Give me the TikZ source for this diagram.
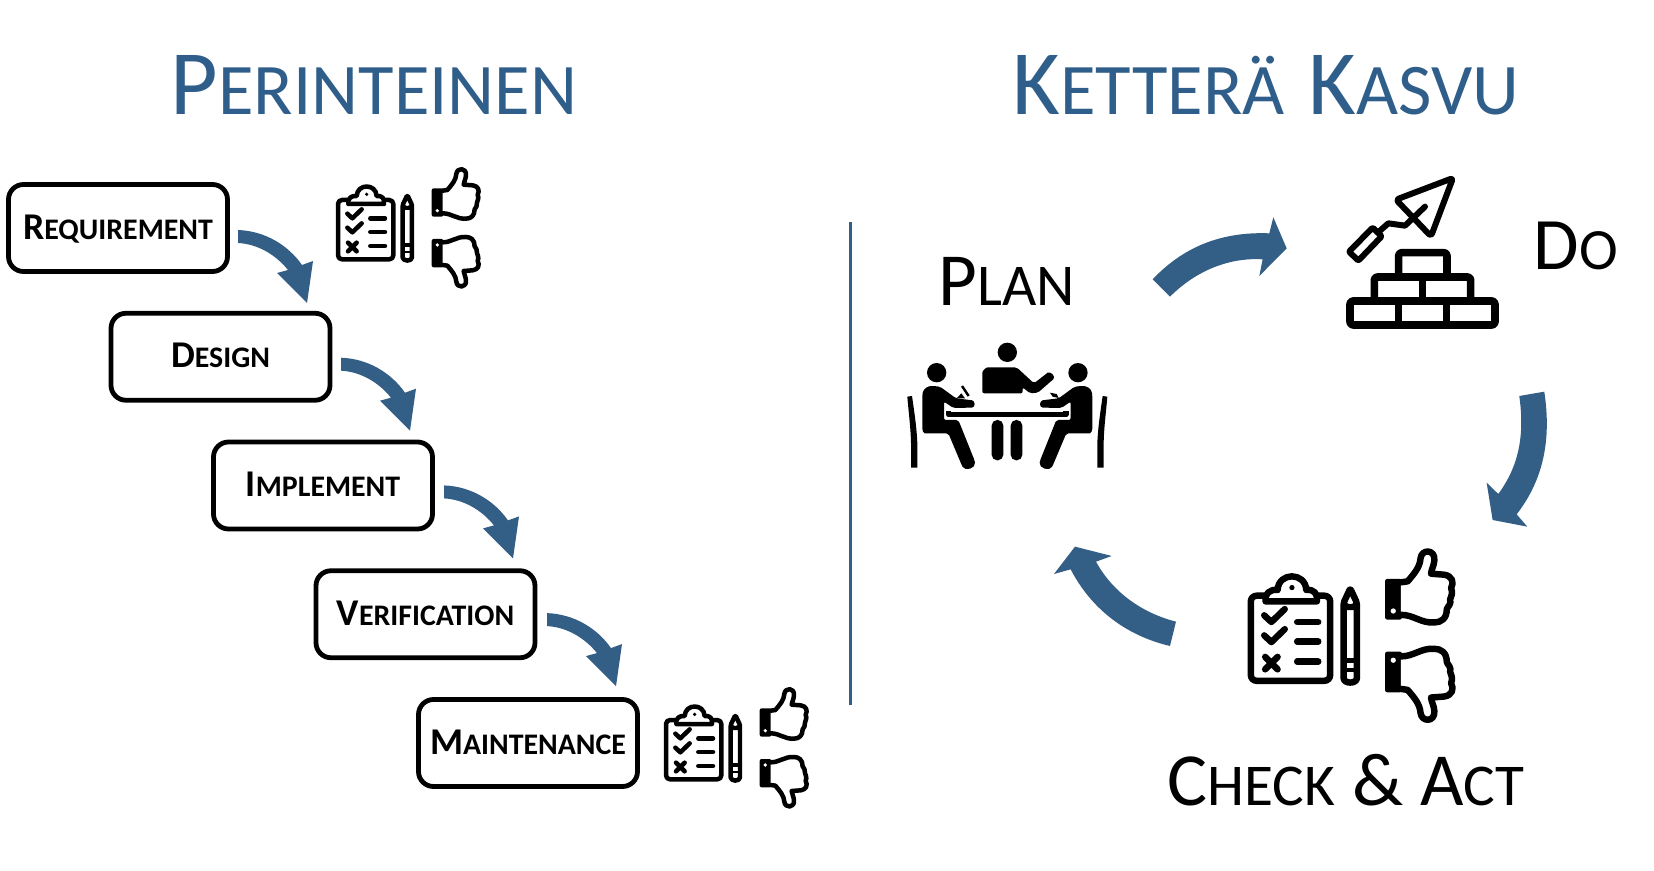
\documentclass[tikz,border=0pt]{standalone}
\usepackage{fontspec}
\setmainfont{Carlito}
\definecolor{blu}{HTML}{335E86}
\definecolor{tit}{HTML}{2F5E8B}
\newcommand{\capsm}[3]{\pgfmathsetmacro{\smallsz}{#1*0.79}{\fontsize{#1}{#1}\selectfont #2}{\fontsize{\smallsz}{#1}\selectfont #3}}
\newcommand{\thumbshape}{%
  \fill[black,rounded corners=2pt] (335,115) rectangle (370,200);
  \fill[white] (352,182) circle (5.5);
  \draw[fill=white,line join=round] (368,122) -- (382,120) .. controls (395,105) and (408,90) .. (409,72)
    .. controls (411,52) and (440,52) .. (438,76) .. controls (437,88) and (432,94) .. (431,104)
    -- (458,106) .. controls (475,108) and (480,122) .. (473,134) .. controls (478,145) and (472,152) .. (471,158)
    .. controls (474,168) and (466,172) .. (464,178) .. controls (464,198) and (452,206) .. (438,206)
    .. controls (410,208) and (395,190) .. (368,190);
}
\newcommand{\reviewicon}[3]{%
\begin{scope}[shift={(#1,#2)},scale=#3,line width=#3*13.5pt,line cap=round,line join=round]
  % clipboard
  \draw[rounded corners=#3*12pt] (88,150) -- (54,150) -- (54,328) -- (220,328) -- (220,150) -- (190,150);
  \draw[fill=white] (85,162) .. controls (82,145) and (95,136) .. (110,138) .. controls (112,100) and (168,100) .. (170,138)
     .. controls (185,136) and (195,145) .. (192,162) -- cycle;
  \fill (140,133) circle (5.5);
  \draw (82,191) -- (97,205) -- (125,178);
  \draw (82,233) -- (97,247) -- (125,220);
  \draw (84,278) -- (110,304) (110,278) -- (84,304);
  \draw (151,205) -- (195,205) (151,246) -- (195,246) (151,288) -- (195,288);
  % pencil
  \draw[rounded corners=#3*4pt] (248,165) -- (262,135) -- (276,165) -- (276,318) .. controls (276,335) and (248,335) .. (248,318) -- cycle;
  \fill (248,163) -- (262,168) -- (276,163) -- (276,180) -- (248,180) -- cycle;
  \fill (248,280) rectangle (276,290);
  \fill (248,302) rectangle (276,310);
  % thumbs
  \thumbshape
  \begin{scope}[yscale=-1,shift={(0,-467)}]
    \thumbshape
  \end{scope}
\end{scope}}
\newcommand{\stepper}[2]{%
\begin{scope}[shift={(#1,#2)}]
  \fill[blu] (238,230) .. controls (265,231) and (288,245) .. (302,265) -- (313,261) -- (307,303) -- (277,273) -- (288,270) .. controls (276,255) and (258,244) .. (238,243) -- cycle;
\end{scope}}
\tikzset{
  stagebox/.style={draw=black,line width=4.8pt,rounded corners=15pt,fill=white,minimum width=219pt,minimum height=87pt,inner sep=0pt},
  stagetext/.style={anchor=base,inner sep=0pt,font=\bfseries},
  headline/.style={anchor=base,inner sep=0pt,text=tit},
  phase/.style={anchor=base,inner sep=0pt,text=black},
}
\begin{document}
\begin{tikzpicture}[x=1pt,y=-1pt]
\useasboundingbox (0,0) rectangle (1654,870);
\fill[white] (0,0) rectangle (1654,870);
% titles
\node[headline] (t1) at (374,114) {\capsm{92}{P}{ERINTEINEN}};
\node[headline] (t2) at (1266,114) {\capsm{92}{K}{ETTERÄ}\hspace{24pt}\capsm{92}{K}{ASVU}};
% stage boxes
\foreach \n/\i/\a/\b in {s1/0/R/EQUIREMENT,s2/1/D/ESIGN,s3/2/I/MPLEMENT,s4/3/V/ERIFICATION,s5/4/M/AINTENANCE}{
  \node[stagebox] (\n) at ({118+102.5*\i},{228+128.75*\i}) {};
  \node[stagetext] (\n t) at ({118+102.5*\i},{239+128.75*\i}) {\capsm{37.8}{\a}{\b}};
}
\stepper{0}{0}
\stepper{103}{127.7}
\stepper{206}{255.4}
\stepper{309}{383.1}
% icons
\reviewicon{320}{150}{0.3333}
\reviewicon{648}{670}{0.3333}
\reviewicon{1225}{524}{0.478}
% divider
\coordinate (d1) at (850,222);
\coordinate (d2) at (850,705);
\draw[blu,line width=3pt] (d1) -- (d2);
% phase labels
\node[phase] (plan) at (1007,305) {\capsm{75}{P}{LAN}};
\node[phase] (do) at (1576,269) {\capsm{74}{D}{O}};
\node[phase] (check) at (1346,805) {\capsm{75}{C}{HECK}\hspace{17pt}{\fontsize{75}{75}\selectfont\&}\hspace{17pt}\capsm{75}{A}{CT}};
% big arrows
\begin{scope}[shift={(1130,200)},scale=0.3333]
  \fill[blu] (68,238) .. controls (170,130) and (290,95) .. (418,100) -- (430,52) -- (470,145) -- (388,228) -- (398,178) .. controls (300,172) and (200,210) .. (120,290) -- cycle;
\end{scope}
\begin{scope}[shift={(1040,380)},scale=0.3333]
  \fill[blu] (1513,35) .. controls (1535,180) and (1510,300) .. (1430,403) -- (1462,440) -- (1358,420) -- (1340,308) -- (1375,342) .. controls (1435,260) and (1455,170) .. (1438,48) -- cycle;
  \fill[blu] (390,798) .. controls (250,765) and (150,680) .. (92,568) -- (42,582) -- (105,500) -- (215,528) -- (168,545) .. controls (220,640) and (310,700) .. (408,725) -- cycle;
\end{scope}
% bricks and trowel
\begin{scope}[shift={(1330,165)},scale=0.3333,line join=round,line cap=round]
  \draw[line width=7.6pt,rounded corners=3pt] (60,408) rectangle (495,480);
  \draw[line width=7.6pt] (205,408) -- (205,480) (350,408) -- (350,480);
  \draw[line width=7.6pt,rounded corners=3pt] (133,405) -- (133,336) -- (422,336) -- (422,405);
  \draw[line width=7.6pt] (278,336) -- (278,405);
  \draw[line width=7.6pt,rounded corners=3pt] (206,330) -- (206,263) -- (351,263) -- (351,330);
  \draw[line width=6pt,rounded corners=3pt] (369,39) -- (198,104) -- (303,214) -- cycle;
  \draw[line width=6pt] (285,125) -- (243,165) -- (225,182) -- (175,175) -- (150,197);
  \draw[line width=6pt,rounded corners=1pt] (128,188) -- (155,214) -- (85,287) -- (57,260) -- cycle;
\end{scope}
% meeting
\begin{scope}[shift={(890,330)},scale=0.3333,line join=round]
  \fill (352,67) circle (29);
  \fill[rounded corners=2pt] (277,190) -- (277,135) .. controls (277,120) and (290,112) .. (300,112) -- (380,112) -- (432,160) -- (468,132) .. controls (480,122) and (500,140) .. (485,152) -- (444,188) -- (420,190) -- (398,172) -- (398,190) -- (300,190) -- cycle;
  \fill[rounded corners=5.5pt] (305,270) rectangle (340,391);
  \fill[rounded corners=5.5pt] (362,270) rectangle (397,391);
  \draw[line width=5.4pt] (176,243) -- (176,254) -- (528,254) -- (528,243);
  \foreach \m in {0,1}{
    \begin{scope}[shift={(\m*704,0)},xscale={1-2*\m}]
      \fill (140,128) circle (29);
      \fill[rounded corners=2pt] (97,290) -- (97,195) .. controls (100,175) and (115,168) .. (130,168) -- (150,170) -- (198,205) -- (240,210) .. controls (255,212) and (258,232) .. (240,233) -- (190,234) -- (162,215) -- (162,270) -- (205,270) -- (254,392) .. controls (258,415) and (225,425) .. (215,405) -- (175,310) -- (110,310) .. controls (100,310) and (97,300) .. (97,290) -- cycle;
      \fill (52,200) -- (66,198) .. controls (72,240) and (80,290) .. (82,340) -- (82,413) -- (63,413) -- (63,340) .. controls (62,290) and (55,240) .. (52,200) -- cycle;
    \end{scope}
  }
  \fill (200,205) -- (225,205) -- (214,190) -- cycle;
  \draw[line width=2.4pt] (236,198) -- (216,168);
  \fill (480,188) -- (500,192) -- (506,204) -- (488,200) -- cycle;
\end{scope}
\end{tikzpicture}
\end{document}
